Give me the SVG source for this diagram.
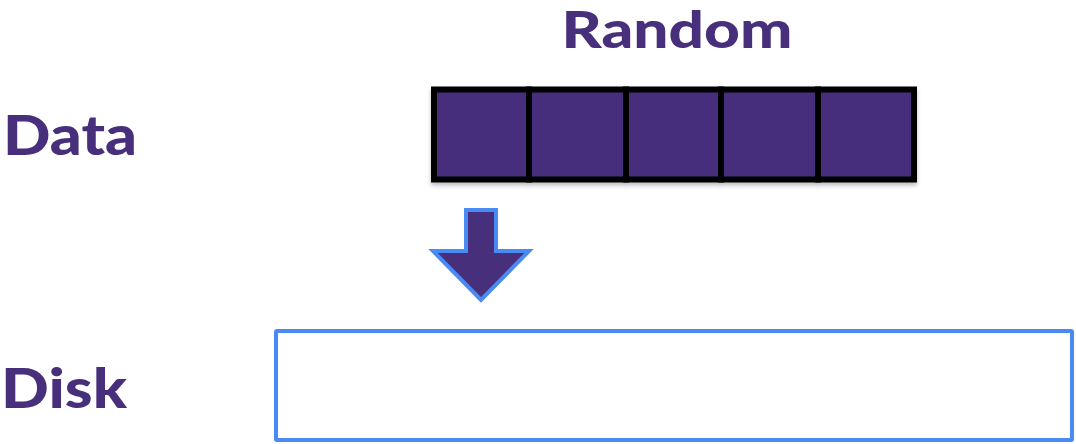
<svg xmlns="http://www.w3.org/2000/svg" width="1076" height="444" viewBox="0 0 1076 444">
<defs>
<style>
.lbl{font-family:Lato,"Open Sans",sans-serif;font-weight:900;fill:#472F7B;font-size:56px}
.cell{fill:#472F7B;stroke:#000;stroke-width:6}
</style>
<filter id="sh" x="-5%" y="-10%" width="110%" height="130%"><feDropShadow dx="0" dy="3" stdDeviation="2" flood-color="#000" flood-opacity="0.25"/></filter>
</defs>
<rect width="1076" height="444" fill="#fff"/>
<g id="label-random"><text class="lbl" x="677" y="48" text-anchor="middle" textLength="231" lengthAdjust="spacingAndGlyphs" style="font-size:52px">Random</text></g>
<g id="label-data"><text class="lbl" x="3" y="155" textLength="134" lengthAdjust="spacingAndGlyphs">Data</text></g>
<g id="label-disk"><text class="lbl" x="1" y="408" textLength="126" lengthAdjust="spacingAndGlyphs">Disk</text></g>
<g id="data-blocks" filter="url(#sh)">
<rect class="cell" x="434" y="89.5" width="95" height="90"/>
<rect class="cell" x="529" y="89.5" width="97" height="90"/>
<rect class="cell" x="626" y="89.5" width="95" height="90"/>
<rect class="cell" x="721" y="89.5" width="97" height="90"/>
<rect class="cell" x="818" y="89.5" width="96" height="90"/>
</g>
<g id="connectors">
<path d="M466 210 H496 V251 H529 L481 300 L433 251 H466 Z" fill="#472F7B" stroke="#4A8AF4" stroke-width="4" stroke-linejoin="miter"/>
</g>
<g id="disk">
<rect x="276" y="331" width="796" height="109" fill="#fff" stroke="#4A8AF4" stroke-width="4" rx="1"/>
</g>
</svg>
